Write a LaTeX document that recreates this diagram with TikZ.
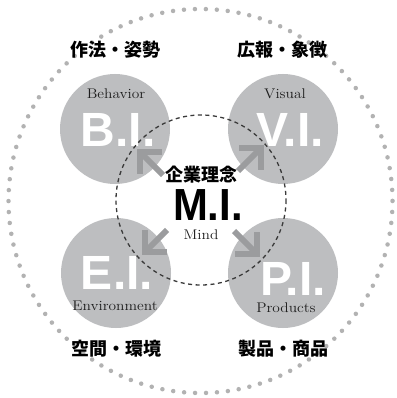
\documentclass[tikz,border=0pt]{standalone}
\usepackage{fontspec}
\newfontfamily\cjk{Noto Sans CJK JP}
\newfontfamily\bigsans{Liberation Sans}
\usetikzlibrary{calc}
\definecolor{circgray}{HTML}{BDBEC0}
\definecolor{arrgray}{HTML}{9B9C9E}
\definecolor{dotgray}{HTML}{B2B2B2}
\definecolor{labelink}{HTML}{1E1E1E}
\definecolor{dashink}{HTML}{3A3A3A}
\begin{document}
\begin{tikzpicture}[x=1pt,y=-1pt,
  ci/.style={circle, fill=circgray, minimum size=110pt, inner sep=0pt},
  big/.style={text=white, font=\bigsans\bfseries\fontsize{48}{48}\selectfont, inner sep=0pt},
  eng/.style={text=labelink, font=\fontsize{14}{14}\selectfont, xscale=1.1, inner sep=0pt, anchor=base},
  jp/.style={text=black, font=\cjk\bfseries\fontsize{18}{18}\selectfont, inner sep=0pt, anchor=base},
  arrline/.style={draw=arrgray, line width=6pt},
  arrhead/.style={draw=arrgray, line width=6pt, line join=miter}
]
\useasboundingbox (0,0) rectangle (396,398);
\fill[white] (0,0) rectangle (396,398);
% outer dotted ring
\coordinate (ctr) at (200.5,201);
\draw[dotgray, line width=4.5pt, line cap=round, dash pattern=on 0pt off 10.967pt] (ctr) circle[radius=192];
% gray circles
\node[ci] (B) at (115,129) {};
\node[ci] (V) at (283,129) {};
\node[ci] (E) at (116,273) {};
\node[ci] (P) at (283,273) {};
% big letters
\node[big] (bi) at (118,130) {B.I.};
\node[big] (vi) at (290,130) {V.I.};
\node[big] (ei) at (117,273) {E.I.};
\node[big] (pi) at (293,279) {P.I.};
% inner dashed ring
\coordinate (mc) at (201,200);
\draw[dashink, line width=1.3pt, dash pattern=on 4pt off 3.5pt] (mc) circle[radius=85];
% arrows
\coordinate (tNW) at (140,152); \coordinate (sNW) at (163,175);
\coordinate (tNE) at (261,148); \coordinate (sNE) at (238,171);
\coordinate (tSW) at (145,252); \coordinate (sSW) at (167,230);
\coordinate (tSE) at (257,254); \coordinate (sSE) at (234,231);
\draw[arrline] (sNW) -- (tNW);
\draw[arrhead] ($(tNW)+(22,0)$) -- (tNW) -- ($(tNW)+(0,22)$);
\draw[arrline] (sNE) -- (tNE);
\draw[arrhead] ($(tNE)+(-22,0)$) -- (tNE) -- ($(tNE)+(0,22)$);
\draw[arrline] (sSW) -- (tSW);
\draw[arrhead] ($(tSW)+(0,-22)$) -- (tSW) -- ($(tSW)+(22,0)$);
\draw[arrline] (sSE) -- (tSE);
\draw[arrhead] ($(tSE)+(-22,0)$) -- (tSE) -- ($(tSE)+(0,-22)$);
% english labels
\node[eng] (beh) at (116,99) {Behavior};
\node[eng] (vis) at (285,99) {Visual};
\node[eng] (env) at (115,310) {Environment};
\node[eng] (pro) at (286,312) {Products};
\node[eng] (mind) at (201,239) {Mind};
% japanese labels
\node[jp] (j1) at (115,56.5) {作法・姿勢};
\node[jp] (j2) at (282,56.5) {広報・象徴};
\node[jp] (j3) at (116,355.5) {空間・環境};
\node[jp] (j4) at (283,355.5) {製品・商品};
\node[jp] (j5) at (201,181.5) {企業理念};
% center M.I.
\node[text=black, font=\bigsans\bfseries\fontsize{45}{45}\selectfont, inner sep=0pt, xscale=0.93] (mi) at (208,205) {M.I.};
\end{tikzpicture}
\end{document}
